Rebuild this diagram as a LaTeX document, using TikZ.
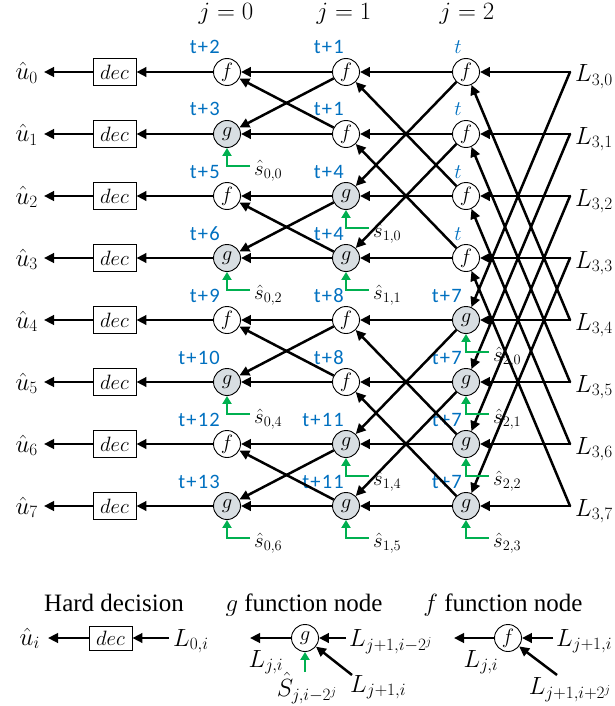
\documentclass[tikz,border=0pt]{standalone}
\usepackage{fontspec}
\setmainfont{Liberation Serif}
\newfontfamily\calib[LetterSpace=6]{Carlito}
\usetikzlibrary{arrows.meta}
\definecolor{tblue}{RGB}{0,112,192}
\definecolor{sgreen}{RGB}{0,176,80}
\definecolor{gfill}{RGB}{216,222,226}
\tikzset{
  fn/.style={circle, draw, line width=0.9pt, minimum size=27pt, inner sep=0pt, fill=white, font=\fontsize{22}{22}\selectfont},
  gn/.style={fn, fill=gfill},
  decbox/.style={draw, line width=0.9pt, minimum width=43pt, minimum height=27pt, inner sep=0pt, fill=white, font=\fontsize{20}{20}\selectfont},
  wire/.style={line width=2.5pt, -{Triangle[length=10pt,width=9.5pt]}},
  lwire/.style={wire, line cap=round},
  tlab/.style={text=tblue, font=\calib\fontsize{20.5}{20.5}\selectfont, anchor=base east, inner sep=0pt},
  slab/.style={font=\fontsize{21}{21}\selectfont, anchor=base west, inner sep=0pt},
  sarr/.style={draw=sgreen, line width=2.5pt, -{Triangle[length=8pt,width=9pt]}},
  mlab/.style={font=\fontsize{25}{25}\selectfont, inner sep=0pt},
  ttl/.style={font=\fontsize{25}{25}\selectfont, inner sep=0pt, anchor=base}
}
\begin{document}
\begin{tikzpicture}[x=1pt,y=-1pt]
\useasboundingbox (0,0) rectangle (615,706);
% headers
\node[mlab, anchor=base] (h0) at (226,20) {$j=0$};
\node[mlab, anchor=base] (h1) at (344,20) {$j=1$};
\node[mlab, anchor=base] (h2) at (467,20) {$j=2$};
% column j=0
\foreach \i/\t/\lab in {0/f/t+2,1/g/t+3,2/f/t+5,3/g/t+6,4/f/t+9,5/g/t+10,6/f/t+12,7/g/t+13}{
  \node[\t n] (n-0-\i) at (227,{72+62*\i}) {$\t$};
  \node[tlab] (t-0-\i) at (220,{54+62*\i}) {\lab};
}
% column j=1
\foreach \i/\t/\lab in {0/f/t+1,1/f/t+1,2/g/t+4,3/g/t+4,4/f/t+8,5/f/t+8,6/g/t+11,7/g/t+11}{
  \node[\t n] (n-1-\i) at (346,{72+62*\i}) {$\t$};
  \node[tlab] (t-1-\i) at (344,{54+62*\i}) {\lab};
}
% column j=2
\foreach \i/\t/\lab in {0/f/$t$,1/f/$t$,2/f/$t$,3/f/$t$,4/g/t+7,5/g/t+7,6/g/t+7,7/g/t+7}{
  \node[\t n] (n-2-\i) at (466,{72+62*\i}) {$\t$};
  \node[tlab] (t-2-\i) at (462,{54+62*\i}) {\lab};
}
% inputs, decisions, outputs
\foreach \i in {0,...,7}{
  \coordinate (c\i) at (570,{72+62*\i});
  \node[mlab, anchor=base west, inner xsep=0pt] (L\i) at (575,{82+62*\i}) {$L_{3,\i}$};
  \node[decbox] (d-\i) at (114.5,{72+62*\i}) {$dec$};
  \node[mlab, anchor=base east, inner xsep=6pt] (u-\i) at (44,{80+62*\i}) {$\hat{u}_{\i}$};
}
% L -> j=2
\foreach \i in {0,...,7}{ \draw[lwire] (c\i) -- (n-2-\i); }
\foreach \i in {0,...,3}{
  \pgfmathtruncatemacro\k{\i+4}
  \draw[lwire] (c\k) -- (n-2-\i);
  \draw[lwire] (c\i) -- (n-2-\k);
}
% j=2 -> j=1
\foreach \i in {0,...,7}{ \draw[wire] (n-2-\i) -- (n-1-\i); }
\foreach \i in {0,1,4,5}{
  \pgfmathtruncatemacro\k{\i+2}
  \draw[wire] (n-2-\k) -- (n-1-\i);
  \draw[wire] (n-2-\i) -- (n-1-\k);
}
% j=1 -> j=0
\foreach \i in {0,...,7}{ \draw[wire] (n-1-\i) -- (n-0-\i); }
\foreach \i in {0,2,4,6}{
  \pgfmathtruncatemacro\k{\i+1}
  \draw[wire] (n-1-\k) -- (n-0-\i);
  \draw[wire] (n-1-\i) -- (n-0-\k);
}
% j=0 -> dec -> u
\foreach \i in {0,...,7}{
  \draw[wire] (n-0-\i) -- (d-\i);
  \draw[wire] (d-\i.west) -- (d-\i.west -| u-\i.east);
}
% partial sums
\foreach \j/\i/\s in {0/1/{0,0},0/3/{0,2},0/5/{0,4},0/7/{0,6},1/2/{1,0},1/3/{1,1},1/6/{1,4},1/7/{1,5},2/4/{2,0},2/5/{2,1},2/6/{2,2},2/7/{2,3}}{
  \coordinate (sc-\j-\i) at ([shift={(23,32)}]n-\j-\i.center);
  \draw[sarr] (sc-\j-\i) -| (n-\j-\i.south);
  \node[slab] (sl-\j-\i) at ([shift={(27,41)}]n-\j-\i.center) {$\hat{s}_{\s}$};
}
% ---------- legend ----------
\node[ttl] (tt1) at (114,611) {Hard decision};
\node[ttl] (tt2) at (304,611) {$g$ function node};
\node[ttl] (tt3) at (503,611) {$f$ function node};
% hard decision
\node[decbox, minimum height=24pt] (ld) at (110.5,638) {$dec$};
\node[mlab, anchor=base east, inner xsep=8pt] (lu) at (48,645) {$\hat{u}_i$};
\node[mlab, anchor=base west, inner xsep=4pt] (lL) at (169,646) {$L_{0,i}$};
\draw[wire] (ld.west) -- (ld.west -| lu.east);
\draw[wire] (ld.east -| lL.west) -- (ld.east);
% g node legend
\node[gn, fill=white] (lg) at (305,638) {$g$};
\coordinate (lgo) at (250,638);
\draw[wire] (lg) -- (lgo);
\node[mlab, anchor=base] (lgji) at (266,667) {$L_{j,i}$};
\node[mlab, anchor=base west, inner xsep=3pt] (lgr) at (346,646) {$L_{j+1,i-2^j}$};
\draw[wire] (lg.east -| lgr.west) -- (lg.east);
\coordinate (lgd) at (352,675);
\draw[wire] (lgd) -- (lg);
\node[mlab, anchor=base west] (lgb) at (350,692) {$L_{j+1,i}$};
\coordinate (lgs) at (305,672);
\draw[sarr] (lgs) -- (lg.south);
\node[mlab, anchor=base] (lgS) at (307,696) {$\hat{S}_{j,i-2^j}$};
% f node legend
\node[fn] (lf) at (508,638) {$f$};
\coordinate (lfo) at (454,638);
\draw[wire] (lf) -- (lfo);
\node[mlab, anchor=base] (lfji) at (481,667) {$L_{j,i}$};
\node[mlab, anchor=base west, inner xsep=3pt] (lfr) at (553,646) {$L_{j+1,i}$};
\draw[wire] (lf.east -| lfr.west) -- (lf.east);
\coordinate (lfd) at (557,675);
\draw[wire] (lfd) -- (lf);
\node[mlab, anchor=base] (lfb) at (570,694) {$L_{j+1,i+2^j}$};
\end{tikzpicture}
\end{document}
